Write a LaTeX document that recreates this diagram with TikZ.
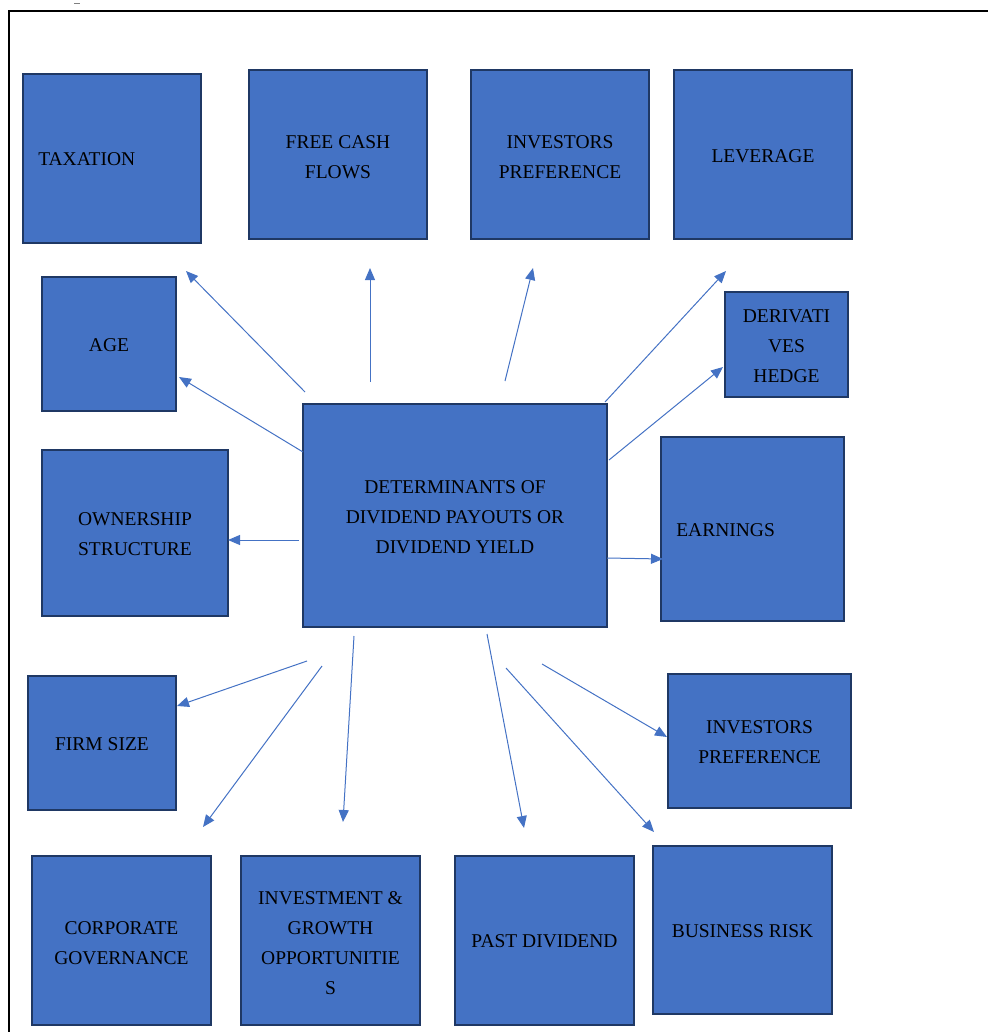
\documentclass[tikz,border=0pt]{standalone}
\usepackage{fontspec}
\setmainfont{Liberation Serif}
\usetikzlibrary{arrows.meta}
\definecolor{boxfill}{HTML}{4472C4}
\definecolor{boxline}{HTML}{1F3864}
\definecolor{arrowcol}{HTML}{4472C4}
\tikzset{
  box/.style={draw=boxline, line width=1.8pt, fill=boxfill, inner sep=0pt},
  txt/.style={align=center, inner sep=0pt, font=\fontsize{19.5}{30}\selectfont, text=black},
  conn/.style={draw=arrowcol, line width=1pt,
    -{Triangle[length=12pt,width=10pt]}},
  frame/.style={draw=black, line width=1.5pt}
}
\begin{document}
\begin{tikzpicture}[x=1pt,y=-1pt]
\useasboundingbox (0,0) rectangle (988,1032);
% frame
\coordinate (f1) at (9,1032);
\coordinate (f2) at (9,11);
\coordinate (f3) at (988,11);
\draw[frame] (f1) -- (f2) -- (f3);
\coordinate (d1) at (74,3);
\coordinate (d2) at (80,3);
\draw[line width=0.8pt, gray] (d1) -- (d2);

% boxes
\node[box, minimum width=178pt, minimum height=169pt] (tax) at (112,158.5) {};
\node[box, minimum width=178pt, minimum height=169pt] (fcf) at (338,154.5) {};
\node[box, minimum width=178pt, minimum height=169pt] (ipt) at (560,154.5) {};
\node[box, minimum width=178pt, minimum height=169pt] (lev) at (763,154.5) {};
\node[box, minimum width=134pt, minimum height=134pt] (age) at (109,344) {};
\node[box, minimum width=123pt, minimum height=105pt] (der) at (786.5,344.5) {};
\node[box, minimum width=186pt, minimum height=166pt] (own) at (135,533) {};
\node[box, minimum width=304pt, minimum height=223pt] (det) at (455,515.5) {};
\node[box, minimum width=183pt, minimum height=184pt] (ear) at (752.5,529) {};
\node[box, minimum width=148pt, minimum height=134pt] (fs) at (102,743) {};
\node[box, minimum width=183pt, minimum height=134pt] (ipr) at (759.5,741) {};
\node[box, minimum width=179pt, minimum height=169pt] (cg) at (121.5,940.5) {};
\node[box, minimum width=179pt, minimum height=169pt] (igo) at (330.5,940.5) {};
\node[box, minimum width=179pt, minimum height=169pt] (pd) at (544.5,940.5) {};
\node[box, minimum width=179pt, minimum height=168pt] (br) at (742.5,930) {};

% texts
\node[txt, anchor=west] (taxt) at ([xshift=16pt,yshift=-1pt]tax.west) {TAXATION};
\node[txt] (fcft) at ([yshift=-2.5pt]fcf.center) {FREE CASH\\FLOWS};
\node[txt] (iptt) at ([yshift=-2.5pt]ipt.center) {INVESTORS\\PREFERENCE};
\node[txt] (levt) at ([yshift=-2pt]lev.center) {LEVERAGE};
\node[txt] (aget) at ([yshift=-1pt]age.center) {AGE};
\node[txt] (dert) at ([yshift=-2pt]der.center) {DERIVATI\\VES\\HEDGE};
\node[txt] (ownt) at ([yshift=-1.5pt]own.center) {OWNERSHIP\\STRUCTURE};
\node[txt] (dett) at ([yshift=-1.5pt]det.center) {DETERMINANTS OF\\DIVIDEND PAYOUTS OR\\DIVIDEND YIELD};
\node[txt, anchor=west] (eart) at ([xshift=16pt,yshift=-1pt]ear.west) {EARNINGS};
\node[txt] (fst) at ([yshift=-1pt]fs.center) {FIRM SIZE};
\node[txt] (iprt) at ([yshift=-1.5pt]ipr.center) {INVESTORS\\PREFERENCE};
\node[txt] (cgt) at ([yshift=-2.5pt]cg.center) {CORPORATE\\GOVERNANCE};
\node[txt] (igot) at ([yshift=-2.5pt]igo.center) {INVESTMENT \&\\GROWTH\\OPPORTUNITIE\\S};
\node[txt] (pdt) at ([yshift=-1pt]pd.center) {PAST DIVIDEND};
\node[txt] (brt) at ([yshift=-1pt]br.center) {BUSINESS RISK};

% arrow end points
\coordinate (s1) at (305,392); \coordinate (e1) at (186,271);
\coordinate (s2) at (370,382); \coordinate (e2) at (370,268);
\coordinate (s3) at (505,381); \coordinate (e3) at (533,268);
\coordinate (s4) at (605,402); \coordinate (e4) at (726,271);
\coordinate (s5) at (609,460); \coordinate (e5) at (723,367);
\coordinate (s6) at (303,452); \coordinate (e6) at (179,377);
\coordinate (s7) at (299,540); \coordinate (e7) at (228,540);
\coordinate (s8) at (607,558); \coordinate (e8) at (663,559);
\coordinate (s9) at (307,661); \coordinate (e9) at (177,706);
\coordinate (s10) at (322,666); \coordinate (e10) at (203,827);
\coordinate (s11) at (354,636); \coordinate (e11) at (343,822);
\coordinate (s12) at (487,634); \coordinate (e12) at (524,828);
\coordinate (s13) at (506,668); \coordinate (e13) at (654,832);
\coordinate (s14) at (542,664); \coordinate (e14) at (667,737);

\foreach \i in {1,...,14} {\draw[conn] (s\i) -- (e\i);}
\end{tikzpicture}
\end{document}
